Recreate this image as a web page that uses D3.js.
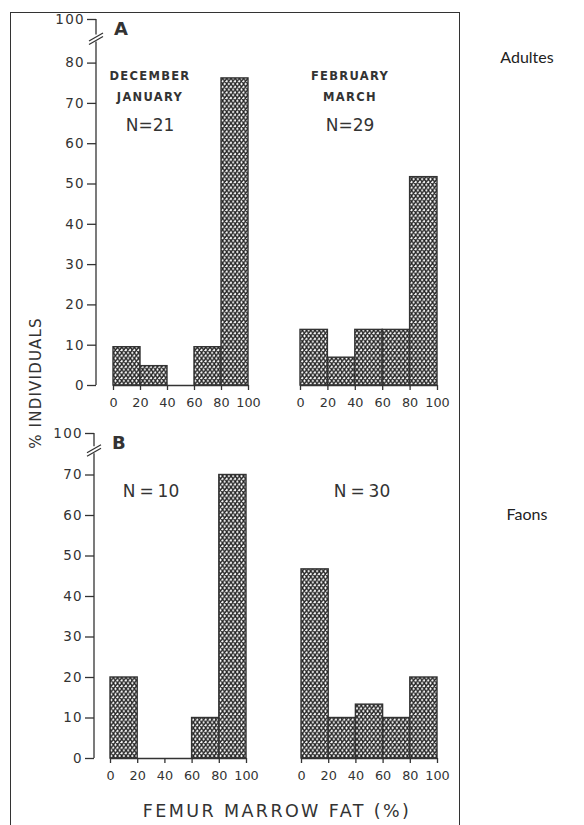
<!DOCTYPE html>
<html>
<head>
<meta charset="utf-8">
<script src="https://cdn.jsdelivr.net/npm/d3@7"></script>
<style>
  body { margin: 0; background: #fff; }
  text { font-family: 'DejaVu Sans', sans-serif; fill: #333; }
</style>
</head>
<body>
<script>
const WIDTH = 584
const HEIGHT = 825

// bin edges of femur marrow fat (%)
const BIN_EDGES = [0, 20, 40, 60, 80, 100]
const X_TICKS = [0, 20, 40, 60, 80, 100]

// % individuals per bin
const adultsDecJan = [9.5, 4.8, 0, 9.5, 76.2]
const adultsFebMar = [13.8, 6.9, 13.8, 13.8, 51.7]
const fawnsDecJan = [20, 0, 0, 10, 70]
const fawnsFebMar = [46.7, 10, 13.3, 10, 20]

const Y_TICKS_A = [0, 10, 20, 30, 40, 50, 60, 70, 80, 100]
const Y_TICKS_B = [0, 10, 20, 30, 40, 50, 60, 70, 100]

const PERIODS = [['DECEMBER', 'JANUARY'], ['FEBRUARY', 'MARCH']]
const N_A = ['N=21', 'N=29']
const N_B = ['N = 10', 'N = 30']

const INK = '#333'

const svg = d3.select('body')
  .append('svg')
  .attr('width', WIDTH)
  .attr('height', HEIGHT)

// hatch pattern (cross hatch)
const defs = svg.append('defs')
const pat = defs.append('pattern')
  .attr('id', 'hatch')
  .attr('patternUnits', 'userSpaceOnUse')
  .attr('width', 4.2)
  .attr('height', 5.6)
pat.append('rect').attr('width', 4.2).attr('height', 5.6).attr('fill', '#fff')
pat.append('path')
  .attr('d', 'M0,0 L4.2,5.6 M4.2,0 L0,5.6 M-1,4.2 L1,6.9 M3.2,-1.4 L5.2,1.4 M-1,1.4 L1,-1.4 M3.2,6.9 L5.2,4.2')
  .attr('stroke', '#222')
  .attr('stroke-width', 1.4)

// frame
svg.append('rect')
  .attr('x', 10.5).attr('y', 12.5)
  .attr('width', 449).attr('height', 830)
  .attr('fill', 'none')
  .attr('stroke', INK)
  .attr('stroke-width', 1)

const rows = [
  { key: 'A', base: 385, top: 19, brk: 85, perUnit: 4.03, axisX: 96, yTicks: Y_TICKS_A,
    panels: [
      { values: adultsDecJan, x0: 113, x1: 248, textX: 150 },
      { values: adultsFebMar, x0: 300, x1: 437, textX: 350 }
    ],
    nLabels: N_A, nY: 131, periodY: [80, 101], side: 'Adultes', sideY: 63 },
  { key: 'B', base: 758, top: 433, brk: 75, perUnit: 4.05, axisX: 94, yTicks: Y_TICKS_B,
    panels: [
      { values: fawnsDecJan, x0: 110, x1: 246, textX: 151 },
      { values: fawnsFebMar, x0: 301, x1: 437, textX: 362 }
    ],
    nLabels: N_B, nY: 497, periodY: null, side: 'Faons', sideY: 520 }
]

rows.forEach(row => {
  // broken y scale: linear up to the break, compressed above it
  const y = d3.scaleLinear()
    .domain([0, row.brk, 100])
    .range([row.base, row.base - row.brk * row.perUnit, row.top])

  const g = svg.append('g')

  // y axis
  const yAxis = g.append('g')
    .attr('transform', `translate(${row.axisX},0)`)
    .call(d3.axisLeft(y).tickValues(row.yTicks).tickSize(9).tickPadding(2).tickSizeOuter(0))
  yAxis.select('.domain').remove()
  yAxis.selectAll('line').attr('stroke', INK).attr('stroke-width', 1.3)
  yAxis.selectAll('text')
    .attr('font-size', 13.5).attr('fill', INK).attr('letter-spacing', 1.3)
    .style('font-family', "'DejaVu Sans', sans-serif")

  const yb = y(row.brk)
  const ax = row.axisX
  g.append('line')
    .attr('x1', ax).attr('x2', ax)
    .attr('y1', y(0)).attr('y2', yb - 1)
    .attr('stroke', INK).attr('stroke-width', 1.3)
  g.append('line')
    .attr('x1', ax).attr('x2', ax)
    .attr('y1', y(100)).attr('y2', yb - 8)
    .attr('stroke', INK).attr('stroke-width', 1.3)
  // break marks
  ;[0, 3.5].forEach(off => {
    g.append('line')
      .attr('x1', ax - 7).attr('y1', yb + 2 - off)
      .attr('x2', ax + 7).attr('y2', yb - 6 - off)
      .attr('stroke', INK).attr('stroke-width', 1.2)
  })

  // panel letter
  g.append('text')
    .attr('x', ax + 18).attr('y', y(100) + 16)
    .attr('font-size', 18).attr('font-weight', 'bold')
    .text(row.key)

  row.panels.forEach((p, i) => {
    const x = d3.scaleLinear().domain([0, 100]).range([p.x0, p.x1])
    const bins = p.values.map((v, k) => ({ v, lo: BIN_EDGES[k], hi: BIN_EDGES[k + 1] }))

    g.selectAll(null)
      .data(bins.filter(d => d.v > 0))
      .enter()
      .append('rect')
      .attr('x', d => x(d.lo))
      .attr('width', d => x(d.hi) - x(d.lo))
      .attr('y', d => y(d.v))
      .attr('height', d => y(0) - y(d.v))
      .attr('fill', 'url(#hatch)')
      .attr('stroke', INK)
      .attr('stroke-width', 1.4)

    const xAxis = g.append('g')
      .attr('transform', `translate(0,${y(0)})`)
      .call(d3.axisBottom(x).tickValues(X_TICKS).tickSize(5).tickPadding(8).tickSizeOuter(0))
    xAxis.selectAll('path, line').attr('stroke', INK).attr('stroke-width', 1.3)
    xAxis.selectAll('text')
      .attr('font-size', 12.8).attr('fill', INK)
      .style('font-family', "'DejaVu Sans', sans-serif")

    if (row.periodY) {
      PERIODS[i].forEach((t, k) => {
        g.append('text')
          .attr('x', p.textX).attr('y', row.periodY[k])
          .attr('text-anchor', 'middle')
          .attr('font-size', 11.5).attr('font-weight', 'bold')
          .attr('letter-spacing', 1.3)
          .attr('fill', '#444')
          .text(t)
      })
    }
    g.append('text')
      .attr('x', p.textX).attr('y', row.nY)
      .attr('text-anchor', 'middle')
      .attr('font-size', 17)
      .attr('word-spacing', -1.5)
      .text(row.nLabels[i])
  })

  // side label
  svg.append('text')
    .attr('x', 527).attr('y', row.sideY)
    .attr('text-anchor', 'middle')
    .attr('font-size', 16)
    .style('font-family', 'Lato, sans-serif')
    .style('fill', '#222')
    .text(row.side)
})

// axis titles
svg.append('text')
  .attr('transform', 'translate(41,383) rotate(-90)')
  .attr('text-anchor', 'middle')
  .attr('font-size', 15)
  .attr('letter-spacing', 1.2)
  .text('% INDIVIDUALS')

svg.append('text')
  .attr('x', 277).attr('y', 817)
  .attr('text-anchor', 'middle')
  .attr('font-size', 17.5)
  .attr('letter-spacing', 2.4)
  .text('FEMUR  MARROW  FAT  (%)')
</script>
</body>
</html>
